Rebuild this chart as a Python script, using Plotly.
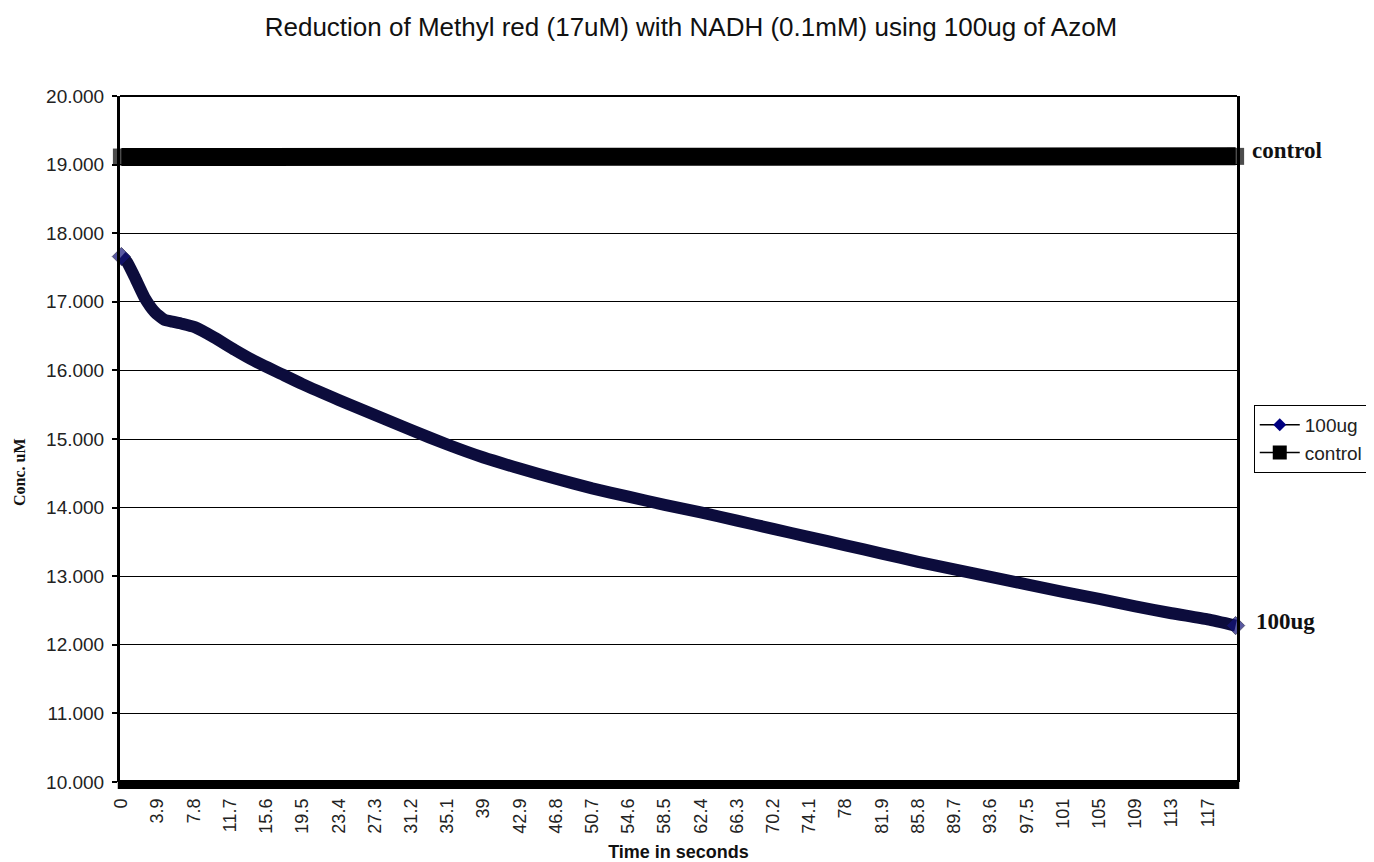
import plotly.graph_objects as go

# ---- data ----
time_100ug = [0, 0.6, 1.4, 2.5, 3.6, 4.6, 5.5, 6.5, 7.9, 10.0, 12.2, 14.3, 17.2, 19.5,
              23.4, 27.3, 31.2, 35.1, 39.0, 42.9, 46.8, 50.7, 54.6, 58.5, 62.4, 66.3,
              70.2, 74.1, 78.0, 81.9, 85.8, 89.7, 93.6, 97.5, 101.4, 105.3, 109.2,
              113.1, 117.0, 120.0]
conc_100ug = [17.66, 17.58, 17.37, 17.06, 16.85, 16.74, 16.71, 16.68, 16.63, 16.48,
              16.30, 16.14, 15.95, 15.80, 15.57, 15.35, 15.13, 14.92, 14.73, 14.57,
              14.42, 14.28, 14.16, 14.04, 13.93, 13.81, 13.69, 13.57, 13.45, 13.33,
              13.21, 13.10, 12.99, 12.88, 12.77, 12.67, 12.56, 12.46, 12.37, 12.28]

time_control = [0, 13, 26, 39, 50, 51.5, 53.5, 55, 65, 78, 91, 104, 117, 120]
conc_control = [19.11, 19.11, 19.12, 19.12, 19.12, 19.10, 19.10, 19.12, 19.12, 19.12,
                19.12, 19.12, 19.12, 19.12]

x_tick_labels = ["0", "3.9", "7.8", "11.7", "15.6", "19.5", "23.4", "27.3", "31.2",
                 "35.1", "39", "42.9", "46.8", "50.7", "54.6", "58.5", "62.4", "66.3",
                 "70.2", "74.1", "78", "81.9", "85.8", "89.7", "93.6", "97.5", "101",
                 "105", "109", "113", "117"]
x_tick_step = 3.9

title_text = "Reduction of Methyl red (17uM) with NADH (0.1mM) using 100ug of AzoM"

# ---- figure ----
fig = go.Figure()

n100 = len(time_100ug)
fig.add_trace(go.Scatter(
    x=time_100ug, y=conc_100ug, mode="lines+markers", name="100ug",
    line=dict(color="#0c0c3c", width=12, shape="spline", smoothing=0.5),
    marker=dict(symbol="diamond", color="#14147a",
                size=[14] + [0] * (n100 - 2) + [14]),
    cliponaxis=False, showlegend=False,
))

nc = len(time_control)
fig.add_trace(go.Scatter(
    x=time_control, y=conc_control, mode="lines+markers", name="control",
    line=dict(color="#000000", width=18),
    marker=dict(symbol="square", color="#000000",
                size=[17] + [0] * (nc - 2) + [17], line=dict(width=0)),
    cliponaxis=False, showlegend=False,
))

# legend entries
fig.add_trace(go.Scatter(
    x=[None], y=[None], mode="lines+markers", name="100ug",
    line=dict(color="#000000", width=1.5),
    marker=dict(symbol="diamond", color="#000080", size=10),
))
fig.add_trace(go.Scatter(
    x=[None], y=[None], mode="lines+markers", name="control",
    line=dict(color="#000000", width=1.5),
    marker=dict(symbol="square", color="#000000", size=14),
))

tick_vals = [i * x_tick_step for i in range(len(x_tick_labels))]

fig.update_layout(
    width=1366, height=854,
    margin=dict(l=112, r=137, t=88, b=80, autoexpand=False),
    paper_bgcolor="white", plot_bgcolor="white",
    font=dict(family="Liberation Sans, Arial, sans-serif", color="#222222"),
    title=dict(text=title_text, x=0.5, xanchor="center", y=1 - 19 / 854,
               yanchor="middle", font=dict(size=26, color="#111111")),
    xaxis=dict(
        range=[-0.15, 120.15], tickvals=tick_vals, ticktext=x_tick_labels,
        tickangle=-90, tickfont=dict(size=18, color="#222222"),
        showgrid=False, zeroline=False, showline=False, ticks="",
        ticklabelstandoff=12, automargin=False,
        title=dict(text="<b>Time in seconds</b>", font=dict(size=18, color="#111111"),
                   standoff=12),
    ),
    yaxis=dict(
        range=[10, 20], dtick=1, tickformat=".3f",
        tickfont=dict(size=19, color="#222222"),
        showgrid=True, gridcolor="#000000", gridwidth=1, zeroline=False,
        showline=True, linecolor="#000000", linewidth=3, mirror=True,
        ticks="outside", ticklen=5, tickwidth=1.5, tickcolor="#000000",
        ticklabelstandoff=4, automargin=False,
    ),
    legend=dict(x=1.015, y=0.5496, xanchor="left", yanchor="top",
                bordercolor="#000000", borderwidth=1, bgcolor="white",
                font=dict(size=19, color="#222222"), tracegroupgap=0,
                itemwidth=40),
    shapes=[
        dict(type="line", xref="paper", yref="paper", x0=0, x1=1, y0=1, y1=1,
             line=dict(color="#000000", width=2)),
        dict(type="line", xref="paper", yref="paper", x0=-0.002, x1=1.002,
             y0=-0.0036, y1=-0.0036, line=dict(color="#000000", width=9)),
    ],
    annotations=[
        dict(text="<b>Conc. uM</b>", xref="paper", yref="paper", x=-0.0895, y=0.452,
             xanchor="center", yanchor="middle", textangle=-90, showarrow=False,
             font=dict(size=16, family="Liberation Serif, Times New Roman, serif",
                       color="#111111")),
        dict(text="<b>control</b>", xref="paper", yref="y", x=1.012, y=19.2,
             xanchor="left", yanchor="middle", showarrow=False,
             font=dict(size=23, family="Liberation Serif, Times New Roman, serif",
                       color="#111111")),
        dict(text="<b>100ug</b>", xref="paper", yref="y", x=1.015, y=12.34,
             xanchor="left", yanchor="middle", showarrow=False,
             font=dict(size=23, family="Liberation Serif, Times New Roman, serif",
                       color="#111111")),
    ],
)

fig.write_html("out.html")
